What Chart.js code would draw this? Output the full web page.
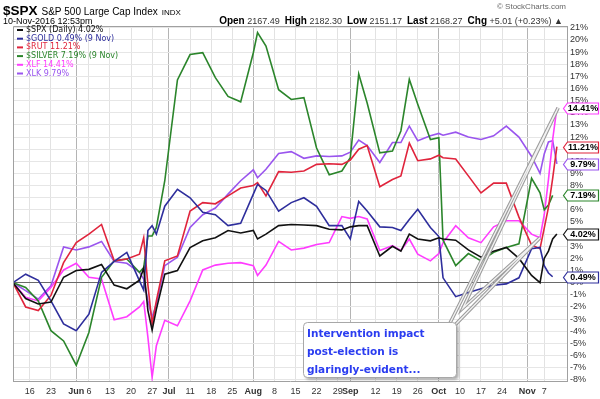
<!DOCTYPE html>
<html>
<head>
<meta charset="utf-8">
<script src="https://cdn.jsdelivr.net/npm/chart.js@4.4.1/dist/chart.umd.min.js"></script>
<style>
  html, body { margin: 0; padding: 0; background: #fff; }
</style>
</head>
<body>
<canvas id="perfChart" width="600" height="399"></canvas>
<script>
// trading day index, 0 = 10 May 2016 ... 129 = 10 Nov 2016
const days = [0, 3, 6, 9, 12, 15, 18, 21, 24, 27, 30, 31, 32, 33, 34, 36, 39, 42, 45, 48,
  51, 54, 57, 58, 60, 63, 66, 69, 72, 75, 78, 80, 82, 84, 87, 90, 92, 94, 96, 99,
  101, 102, 105, 108, 111, 114, 117, 120, 123, 125, 126, 127, 128, 129];

// % change since start
const spx = [0, -1.3, -1.75, -1.6, 0.45, 1.0, 1.1, 1.5, -0.2, -0.5, 0.2, 1.2, -2.3, -3.9, -2.2, 0.7, 1.0, 2.9, 3.45, 3.7,
  4.3, 4.1, 4.3, 3.6, 4.0, 4.7, 4.8, 4.75, 4.7, 4.4, 4.35, 4.6, 4.7, 4.7, 2.2, 3.0, 2.6, 4.0, 3.6, 3.45,
  3.7, 3.6, 3.5, 2.7, 2.1, 2.6, 2.9, 2.0, 0.6, 0.0, 2.0, 2.6, 3.6, 4.02];
const gold = [0, 0.7, 0.2, -1.5, -3.4, -3.95, -2.6, 0.85, 1.75, 2.5, 0.15, -0.6, 4.3, 4.7, 4.0, 6.3, 7.7, 7.0, 5.8, 5.6,
  4.7, 4.9, 7.3, 8.1, 7.6, 5.9, 6.6, 7.0, 6.3, 4.7, 4.7, 3.6, 6.7, 5.9, 4.6, 4.55, 4.3, 5.2, 6.05, 4.55,
  3.8, 0.4, -1.15, -0.8, -0.5, -0.2, -0.1, 0.4, 2.8, 2.9, 1.4, 0.8, 0.49, null];
const rut = [0, -2.0, -2.3, -1.05, 1.65, 3.3, 4.0, 4.8, 1.8, 1.95, 2.35, 3.7, -0.2, -3.4, -1.5, 1.8, 2.2, 5.9, 6.6, 6.5,
  7.15, 7.8, 8.0, 8.25, 7.15, 9.15, 9.1, 9.2, 9.75, 9.8, 9.75, 10.1, 11.0, 11.3, 7.9, 8.5, 8.8, 11.5, 10.05, 10.2,
  10.5, 10.3, 10.2, 8.8, 7.4, 8.2, 8.2, 5.4, 3.1, 2.8, 4.5, 6.2, 8.6, 11.21];
const silver = [0, -0.4, -1.5, -3.95, -4.8, -6.8, -4.1, 0.45, 1.8, 1.95, 0.85, 1.25, 3.85, 3.85, 4.55, 8.4, 16.7, 18.8, 18.95, 16.9,
  15.35, 14.9, 18.95, 20.6, 19.5, 15.9, 15.1, 15.25, 11.1, 8.9, 9.2, 10.3, 17.2, 14.8, 10.7, 10.85, 12.5, 16.75, 14.7, 11.8,
  11.95, 3.5, 1.4, 2.4, 1.8, 2.5, 2.9, 3.2, 8.6, 7.4, 6.0, 6.4, 7.19, null];
const xlf = [0, -1.2, -1.5, -0.4, 1.05, 1.6, 0.45, 0.3, -3.05, -2.8, -2.0, -1.55, -4.5, -7.8, -5.2, -3.1, -3.55, -1.5, 1.05, 1.45,
  1.6, 1.65, 1.4, 0.6, 1.45, 3.4, 2.7, 2.85, 3.15, 3.3, 5.45, 5.3, 5.45, 5.25, 2.65, 3.05, 2.65, 3.6, 2.35, 1.8,
  2.4, 3.3, 4.7, 3.7, 3.3, 4.6, 5.1, 5.1, 4.0, 3.7, 5.6, 8.5, 11.8, 14.41];
const xlk = [0, -0.65, -1.35, -0.25, 2.95, 2.7, 2.95, 3.4, 1.75, 1.6, 0.85, 0.3, -1.5, -2.85, -1.75, 1.4, 2.1, 4.55, 5.6, 6.15,
  7.3, 8.4, 9.3, 8.65, 9.35, 10.65, 10.8, 10.25, 10.45, 10.4, 10.45, 10.75, 11.75, 11.3, 9.9, 11.55, 11.55, 12.9, 11.7, 12.1,
  12.3, 12.15, 12.4, 12.0, 11.8, 12.1, 12.9, 12.0, 10.4, 9.0, 10.6, 11.6, 11.7, 9.79];

const legendLabels = ['$SPX (Daily) 4.02%', '$GOLD 0.49% (9 Nov)', '$RUT 11.21%', '$SILVER 7.19% (9 Nov)', 'XLF 14.41%', 'XLK 9.79%'];
const lastValues = [4.02, 0.49, 11.21, 7.19, 14.41, 9.79];
const lineColors = ['#111111', '#2e2e9c', '#e0243c', '#2b852b', '#ff3cff', '#9a55ee'];

// x axis ticks
const weekTicks = [4, 9, 18, 23, 28, 33, 42, 47, 52, 62, 67, 72, 77, 86, 91, 96, 106, 111, 116, 126];
const weekLabels = ['16', '23', '6', '13', '20', '27', '11', '18', '25', '8', '15', '22', '29', '12', '19', '26', '10', '17', '24', '7'];
const monthTicks = [15, 37, 57, 80, 101, 122];
const monthLabels = ['Jun', 'Jul', 'Aug', 'Sep', 'Oct', 'Nov'];

const yTicks = [];
for (let v = -8; v <= 21; v++) yTicks.push(v);

const noteLines = ['Intervention impact', 'post-election is', 'glaringly-evident...'];

function makeData(vals) {
  return days.map((d, i) => ({ x: d, y: vals[i] }));
}

function tickLabel(v) {
  let k = monthTicks.indexOf(v);
  if (k >= 0) return monthLabels[k];
  k = weekTicks.indexOf(v);
  return k >= 0 ? weekLabels[k] : '';
}

const allXTicks = weekTicks.concat(monthTicks).sort((a, b) => a - b);

// draws header, legend, end tags and the note box
const overlay = {
  id: 'overlay',
  beforeDraw(chart) {
    const ctx = chart.ctx;
    ctx.save();
    ctx.fillStyle = '#fff';
    ctx.fillRect(0, 0, chart.width, chart.height);
    ctx.restore();
  },
  afterDraw(chart) {
    const ctx = chart.ctx;
    const a = chart.chartArea;
    const xs = chart.scales.x;
    const ys = chart.scales.y;
    ctx.save();

    // frame top / left
    ctx.strokeStyle = '#a0a0a0';
    ctx.lineWidth = 1;
    ctx.beginPath();
    ctx.moveTo(a.left + 0.5, a.bottom);
    ctx.lineTo(a.left + 0.5, a.top + 0.5);
    ctx.lineTo(a.right, a.top + 0.5);
    ctx.stroke();

    // header
    ctx.textBaseline = 'alphabetic';
    ctx.textAlign = 'left';
    ctx.fillStyle = '#000';
    ctx.font = 'bold 13.5px "Liberation Sans"';
    ctx.fillText('$SPX', 3, 15);
    let x = 3 + ctx.measureText('$SPX').width + 4;
    ctx.font = '10px "Liberation Sans"';
    ctx.fillText('S&P 500 Large Cap Index', x, 15);
    x += ctx.measureText('S&P 500 Large Cap Index').width + 4;
    ctx.font = '8px "Liberation Sans"';
    ctx.fillText('INDX', x, 15);
    ctx.font = '9px "Liberation Sans"';
    ctx.fillText('10-Nov-2016 12:53pm', 3, 23.5);

    ctx.fillStyle = '#666';
    ctx.font = '8px "Liberation Sans"';
    ctx.textAlign = 'right';
    ctx.fillText('\u00A9 StockCharts.com', 566, 9);
    ctx.textAlign = 'left';

    const quote = [['Open', 1], [' 2167.49  ', 0], ['High', 1], [' 2182.30  ', 0], ['Low', 1], [' 2151.17  ', 0],
      ['Last', 1], [' 2168.27  ', 0], ['Chg', 1], [' +5.01 (+0.23%) \u25B2', 0]];
    const qFont = (b) => b ? 'bold 10px "Liberation Sans"' : '9px "Liberation Sans"';
    let total = 0;
    quote.forEach((q) => { ctx.font = qFont(q[1]); total += ctx.measureText(q[0]).width; });
    x = 563 - total;
    quote.forEach((q) => {
      ctx.font = qFont(q[1]);
      ctx.fillStyle = q[1] ? '#000' : '#333';
      ctx.fillText(q[0], x, 23.5);
      x += ctx.measureText(q[0]).width;
    });

    // legend
    ctx.font = '8px "DejaVu Sans"';
    ctx.textBaseline = 'middle';
    legendLabels.forEach((t, i) => {
      const y = 30 + i * 8.7;
      ctx.strokeStyle = lineColors[i];
      ctx.lineWidth = 2;
      ctx.beginPath();
      ctx.moveTo(17, y);
      ctx.lineTo(23, y);
      ctx.stroke();
      ctx.fillStyle = lineColors[i];
      ctx.fillText(t, 26, y);
    });

    // end value tags
    ctx.font = 'bold 9px "Liberation Sans"';
    lastValues.forEach((v, i) => {
      const y = Math.round(ys.getPixelForValue(v)) + 0.5;
      const x0 = 563.5, w = 35, h = 11;
      ctx.beginPath();
      ctx.moveTo(x0, y);
      ctx.lineTo(x0 + 4, y - h / 2);
      ctx.lineTo(x0 + w, y - h / 2);
      ctx.lineTo(x0 + w, y + h / 2);
      ctx.lineTo(x0 + 4, y + h / 2);
      ctx.closePath();
      ctx.fillStyle = '#fff';
      ctx.fill();
      ctx.strokeStyle = lineColors[i];
      ctx.lineWidth = 1.2;
      ctx.stroke();
      ctx.fillStyle = '#000';
      ctx.textAlign = 'center';
      ctx.fillText(v.toFixed(2) + '%', x0 + 4 + (w - 4) / 2, y + 0.5);
    });
    ctx.textAlign = 'left';

    // note box with pointers
    const bx = 303, by = 322, bw = 153, bh = 55;
    const p1x = xs.getPixelForValue(129.3), p1y = ys.getPixelForValue(14.41);
    const p2x = xs.getPixelForValue(125), p2y = ys.getPixelForValue(3.7);
    const pts = [[bx + bw - 6, by + 1], [p1x, p1y], [bx + bw + 7, by - 14], [p2x, p2y], [bx + bw - 1, by + 3]];
    ctx.lineJoin = 'miter';
    [[3.5, '#9c9c9c'], [1.4, '#f2f2f2']].forEach((s) => {
      ctx.lineWidth = s[0];
      ctx.strokeStyle = s[1];
      ctx.beginPath();
      ctx.moveTo(pts[0][0], pts[0][1]);
      for (let k = 1; k < pts.length; k++) ctx.lineTo(pts[k][0], pts[k][1]);
      ctx.stroke();
    });

    ctx.save();
    ctx.shadowColor = 'rgba(0,0,0,0.35)';
    ctx.shadowBlur = 3;
    ctx.shadowOffsetX = 2;
    ctx.shadowOffsetY = 2;
    ctx.beginPath();
    ctx.roundRect(bx + 0.5, by + 0.5, bw, bh, 4);
    ctx.fillStyle = '#fff';
    ctx.fill();
    ctx.restore();
    ctx.beginPath();
    ctx.roundRect(bx + 0.5, by + 0.5, bw, bh, 4);
    ctx.strokeStyle = '#a8a8a8';
    ctx.lineWidth = 1;
    ctx.stroke();

    ctx.fillStyle = '#2a3cf0';
    ctx.font = 'bold 10.5px "DejaVu Sans"';
    ctx.textBaseline = 'middle';
    noteLines.forEach((t, i) => ctx.fillText(t, bx + 4, by + 12 + i * 18));

    ctx.restore();
  }
};

new Chart(document.getElementById('perfChart'), {
  type: 'line',
  data: {
    datasets: [spx, gold, rut, silver, xlf, xlk].map((vals, i) => ({
      label: legendLabels[i],
      data: makeData(vals),
      borderColor: lineColors[i],
      borderWidth: 1.6,
      pointRadius: 0,
      tension: 0,
      fill: false
    }))
  },
  options: {
    responsive: false,
    animation: false,
    layout: { padding: { left: 13, top: 26, right: 0, bottom: 0 } },
    plugins: { legend: { display: false }, tooltip: { enabled: false } },
    scales: {
      x: {
        type: 'linear',
        min: 0,
        max: 131.4,
        afterBuildTicks: (axis) => { axis.ticks = allXTicks.map((v) => ({ value: v })); },
        afterFit: (s) => { s.height = 18; },
        border: { color: '#a0a0a0' },
        grid: {
          drawTicks: false,
          color: (c) => monthTicks.includes(c.tick.value) ? '#b4b4b4' : '#e2e2e2'
        },
        ticks: {
          autoSkip: false,
          maxRotation: 0,
          minRotation: 0,
          padding: 5,
          color: '#333',
          font: (c) => ({
            family: 'Liberation Sans',
            size: 9,
            weight: c.tick && monthTicks.includes(c.tick.value) ? 'bold' : 'normal'
          }),
          callback: (v) => tickLabel(v)
        }
      },
      y: {
        position: 'right',
        min: -8.1,
        max: 21.15,
        afterBuildTicks: (axis) => { axis.ticks = yTicks.map((v) => ({ value: v })); },
        afterFit: (s) => { s.width = 33; },
        border: { color: '#a0a0a0' },
        grid: {
          drawTicks: false,
          color: (c) => c.tick.value === 0 ? '#6a6a6a' : '#e6e6e6'
        },
        ticks: {
          autoSkip: false,
          padding: 3,
          color: '#333',
          font: { family: 'Liberation Sans', size: 9 },
          callback: (v) => v + '%'
        }
      }
    }
  },
  plugins: [overlay]
});
</script>
</body>
</html>
